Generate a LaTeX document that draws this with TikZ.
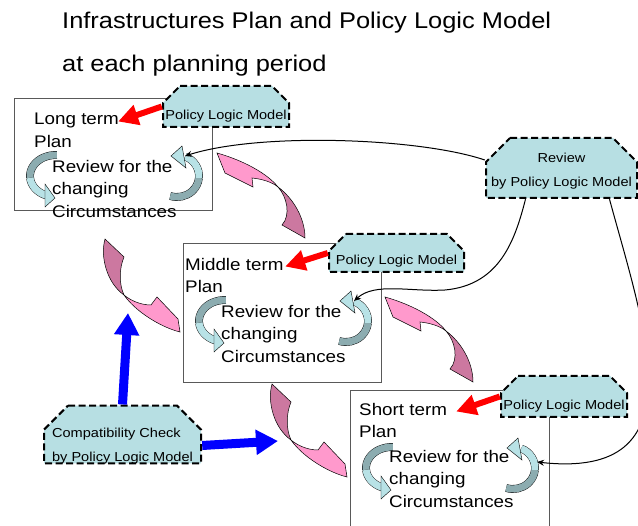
\documentclass[tikz,border=0pt]{standalone}
\usepackage{fontspec}
\setmainfont{Liberation Sans}[FakeStretch=1.12]
\usetikzlibrary{arrows.meta, positioning}

\definecolor{plmfill}{RGB}{183,223,227}
\definecolor{cyanface}{RGB}{184,226,230}
\definecolor{cyanback}{RGB}{140,172,176}
\definecolor{pinkface}{RGB}{255,153,204}
\definecolor{pinkback}{RGB}{204,120,160}

\tikzset{
  plan/.style = {draw=black!65, line width=0.7pt, minimum width=198pt, anchor=north west, inner sep=0pt},
  plantext/.style = {font=\fontsize{16.8}{22.5}\selectfont, align=left, anchor=north west, inner sep=0pt},
  titletext/.style = {font=\fontsize{22.7}{27}\selectfont, anchor=base west, inner sep=0pt},
  plmline/.style = {fill=plmfill, draw=black, line width=2pt, dash pattern=on 7pt off 3.5pt},
  plm/.style = {rectangle, inner sep=0pt, align=center, font=\fontsize{13}{24.5}\selectfont,
    path picture={
      \path[plmline] ([shift={(#1,-1pt)}]path picture bounding box.north west)
        -- ([shift={(-#1,-1pt)}]path picture bounding box.north east)
        -- ([shift={(-1pt,-#1)}]path picture bounding box.north east)
        -- ([shift={(-1pt,1pt)}]path picture bounding box.south east)
        -- ([shift={(1pt,1pt)}]path picture bounding box.south west)
        -- ([shift={(1pt,-#1)}]path picture bounding box.north west) -- cycle;}},
  plm/.default = 18pt,
  plmarrow/.style = {draw=red, line width=6pt, -{Triangle[length=20pt, width=20pt]}},
  checkline/.style = {draw=blue, line width=9pt, -{Triangle[length=22pt, width=24pt]}},
  revline/.style = {draw=black, line width=1pt, -{Stealth[length=7pt, width=6pt]}},
  band/.style = {draw=black, line width=0.4pt, double=#1, double distance=7pt},
  pics/cycle/.style = {code={
    \draw[band=cyanback] (42,78) ++(272:26 and 21) arc[start angle=272, end angle=175, x radius=26, y radius=21];
    \draw[band=cyanface] (42,78) ++(175:26 and 21) arc[start angle=175, end angle=112, x radius=26, y radius=21];
    \filldraw[fill=cyanface, line width=0.4pt] (31,86) -- (41,100) -- (31,109) -- cycle;
    \draw[band=cyanback] (163,78) ++(108:22 and 21) arc[start angle=108, end angle=5, x radius=22, y radius=21];
    \draw[band=cyanface] (163,78) ++(5:22 and 21) arc[start angle=5, end angle=-68, x radius=22, y radius=21];
    \filldraw[fill=cyanface, line width=0.4pt] (168,48) -- (157,58) -- (172,70) -- cycle;
    \coordinate (-in) at (171,58);
    \coordinate (-east) at (185,78);
  }},
  pics/twistdown/.style = {code={
    \filldraw[fill=pinkback, line width=0.5pt] (0,0) -- (19,18) .. controls (14,30) and (14,45) .. (19,56) .. controls (2,44) and (-5,18) .. cycle;
    \filldraw[fill=pinkface, line width=0.5pt] (19,56) .. controls (25,61) and (35,66) .. (46,66) -- (52,58) -- (73,80) -- (75,93) .. controls (55,88) and (30,72) .. cycle;
  }},
  pics/twistup/.style = {code={
    \filldraw[fill=pinkface, line width=0.5pt] (0,0) -- (8,20) -- (36,34) -- (35,25) .. controls (45,26) and (55,29) .. (61,34) .. controls (50,20) and (25,7) .. cycle;
    \filldraw[fill=pinkback, line width=0.5pt] (61,34) .. controls (76,45) and (88,65) .. (88,85) -- (65,72) .. controls (74,62) and (70,44) .. cycle;
  }}
}

\begin{document}
\begin{tikzpicture}[x=1pt, y=-1pt]
\useasboundingbox (0,0) rectangle (638,526);
\clip (0,0) rectangle (638,526);

\node[titletext] (title1) at (62,29) {Infrastructures Plan and Policy Logic Model};
\node[titletext] (title2) at (62,72) {at each planning period};

\node[plan, minimum height=112pt] (long) at (14,98) {};
\node[plan, minimum height=139pt] (middle) at (183,243) {};
\node[plan, minimum width=199pt, minimum height=160pt] (short) at (350,390) {};

\pic (lc) at (long.north west) {cycle};
\pic (mc) at (middle.north west) {cycle};
\pic (sc) at (short.north west) {cycle};

\node[plantext] (longname) at ([shift={(20,15)}]long.north west) {Long term\\Plan};
\node[plantext] (longrev) at ([shift={(38,62)}]long.north west) {Review for the\\changing\\Circumstances};
\node[plantext] (midname) at ([shift={(2,15)}]middle.north west) {Middle term\\Plan};
\node[plantext] (midrev) at ([shift={(38,62)}]middle.north west) {Review for the\\changing\\Circumstances};
\node[plantext] (shortname) at ([shift={(9,13)}]short.north west) {Short term\\Plan};
\node[plantext] (shortrev) at ([shift={(39,60)}]short.north west) {Review for the\\changing\\Circumstances};

\pic at (105,239) {twistdown};
\pic at (272,384) {twistdown};
\pic at (217,153) {twistup};
\pic at (385,297) {twistup};

\node[plm, minimum width=128pt, minimum height=43pt, text height=30pt, text depth=3pt] (plm1) at (226,106.5) {Policy Logic Model};
\node[plm, minimum width=137pt, minimum height=40pt, text height=27pt, text depth=3pt] (plm2) at (396.5,253) {Policy Logic Model};
\node[plm, minimum width=128pt, minimum height=43pt, text height=30pt, text depth=3pt] (plm3) at (564,396.5) {Policy Logic Model};
\node[plm=25pt, minimum width=153pt, minimum height=62pt] (review) at (561.5,168) {\rule{0pt}{15.5pt}Review\\by Policy Logic Model};
\node[plm=25pt, minimum width=159pt, minimum height=57pt, align=left] (compat) at (122.5,434.5) {\rule{0pt}{32.5pt}Compatibility Check\\by Policy Logic Model};

\draw[plmarrow] (plm1.west) -- ([shift={(-1,8.5)}]longname.north east);
\draw[plmarrow] (plm2.west) -- ([shift={(1.5,8.5)}]midname.north east);
\draw[plmarrow] (plm3.west) -- ([shift={(9,8.5)}]shortname.north east);

\coordinate (chkup) at (128,313);
\coordinate (chkright) at (278,441);
\draw[checkline] (compat.north) -- (chkup);
\draw[checkline] ([yshift=-11pt]compat.east) -- (chkright);

\draw[revline] ([yshift=8pt]review.west) .. controls (420,138) and (260,132) .. (lc-in);
\draw[revline] ([xshift=-36pt]review.south) .. controls (515,240) and (500,285) .. (445,290) .. controls (410,292) and (375,282) .. (mc-in);
\draw[revline] ([xshift=48pt]review.south) .. controls (645,330) and (700,480) .. ([shift={(2,-6)}]sc-east);
\end{tikzpicture}
\end{document}
